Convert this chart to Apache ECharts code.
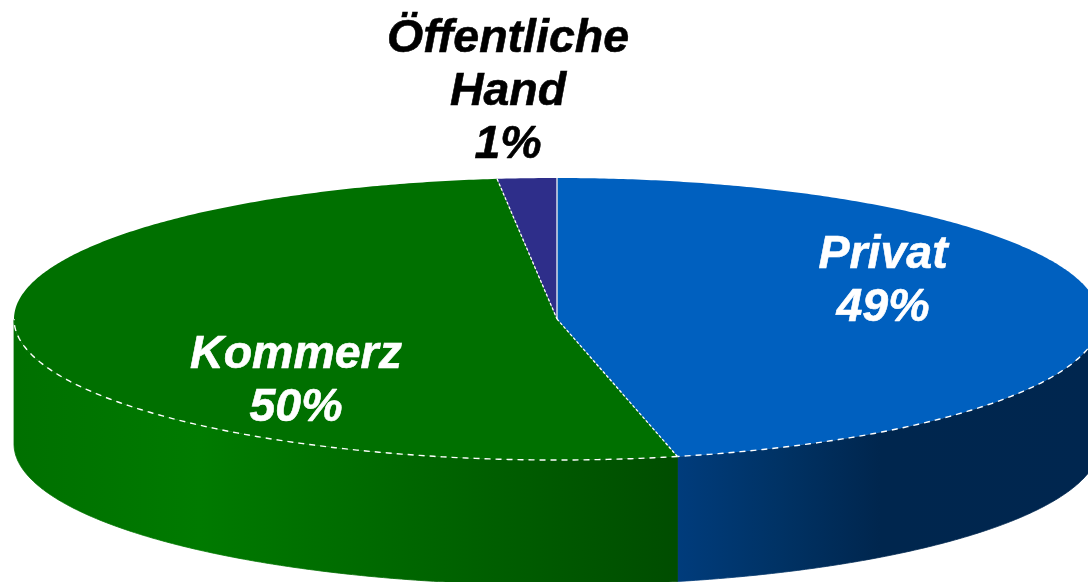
<!DOCTYPE html>
<html><head><meta charset="utf-8">
<style>html,body{margin:0;padding:0;background:#fff}#c{width:1088px;height:582px}</style>
<script src="https://cdn.jsdelivr.net/npm/echarts@6/dist/echarts.min.js"></script>
</head><body><div id="c"></div>
<script>
// Chart content
const categories = ['Privat', 'Kommerz', 'Öffentliche\nHand'];
const percentLabels = [49, 50, 1];
// Slice shares as actually drawn in the picture (the 3D projection skews them from the printed percentages)
const drawnShares = [46.44, 51.8, 1.76];

// Styling and layout
const topColors = ['#0060bf', '#007000', '#2e2e8a'];
const sideStops = [
  [[0, '#003c7c'], [0.25, '#003264'], [0.48, '#00264e'], [1, '#00264f']],
  [[0, '#007000'], [0.28, '#007a00'], [1, '#004d00']],
  [[0, '#1a1a55'], [1, '#1a1a55']]
];
const sideRanges = [[677, 1100], [14, 677], [497, 557]];
const labelCenters = [[883, 282], [296, 382], [508, 92]];
const labelColors = ['#fff', '#fff', '#000'];
const pie = {cx: 557, cy: 319, rx: 543, ry: 141, depth: 125};

const rad = d => d * Math.PI / 180;
const px = t => pie.cx + pie.rx * Math.sin(rad(t));
const py = (t, dy) => pie.cy - pie.ry * Math.cos(rad(t)) + (dy || 0);
function arc(a, b, dy) {
  const pts = [], n = Math.max(2, Math.ceil(Math.abs(b - a) * 2));
  for (let k = 0; k <= n; k++) { const t = a + (b - a) * k / n; pts.push([px(t), py(t, dy)]); }
  return pts;
}
const total = drawnShares.reduce((s, v) => s + v, 0);

function renderItem(params, api) {
  const i = params.dataIndex;
  let before = 0;
  for (let k = 0; k < i; k++) before += drawnShares[k];
  const a = before / total * 360, b = (before + api.value(0)) / total * 360;
  const children = [];
  const lo = Math.max(a, 90), hi = Math.min(b, 270);
  if (hi > lo) {
    const r = sideRanges[i];
    const grad = new echarts.graphic.LinearGradient(r[0], 0, r[1], 0,
      sideStops[i].map(s => ({offset: s[0], color: s[1]})), true);
    children.push({type: 'polygon', shape: {points: arc(lo, hi, 0).concat(arc(hi, lo, pie.depth))},
      style: {fill: grad, stroke: grad, lineWidth: 0.8}});
  }
  const rim = arc(a, b, 0);
  children.push({type: 'polygon', shape: {points: [[pie.cx, pie.cy]].concat(rim)}, style: {fill: topColors[i]}});
  if (hi > lo) {
    children.push({type: 'polyline', z2: 5, shape: {points: arc(lo, hi, 0)},
      style: {fill: null, stroke: '#fff', lineWidth: 1.4, lineDash: [6, 5]}});
  }
  children.push({type: 'polyline', z2: 5, shape: {points: [[px(a), py(a)], [pie.cx, pie.cy]]},
    style: {fill: null, stroke: i === 0 ? '#d8dce8' : '#fff', lineWidth: i === 0 ? 1.5 : 1.3, lineDash: i === 0 ? null : [3, 2]}});
  children.push({type: 'text', z2: 10, style: {
    text: categories[i] + '\n' + percentLabels[i] + '%', x: labelCenters[i][0], y: labelCenters[i][1],
    align: 'center', verticalAlign: 'middle', lineHeight: 53,
    font: 'italic bold 46.5px "Liberation Sans", Arial, sans-serif', fill: labelColors[i],
    stroke: labelColors[i], lineWidth: 0.6}});
  return {type: 'group', children};
}

const chart = echarts.init(document.getElementById('c'), null, {renderer: 'canvas'});
chart.setOption({
  animation: false,
  backgroundColor: '#fff',
  series: [{type: 'custom', coordinateSystem: 'none', clip: false, renderItem,
    data: drawnShares.map((v, i) => ({name: categories[i], value: [v]}))}]
});
</script></body></html>
